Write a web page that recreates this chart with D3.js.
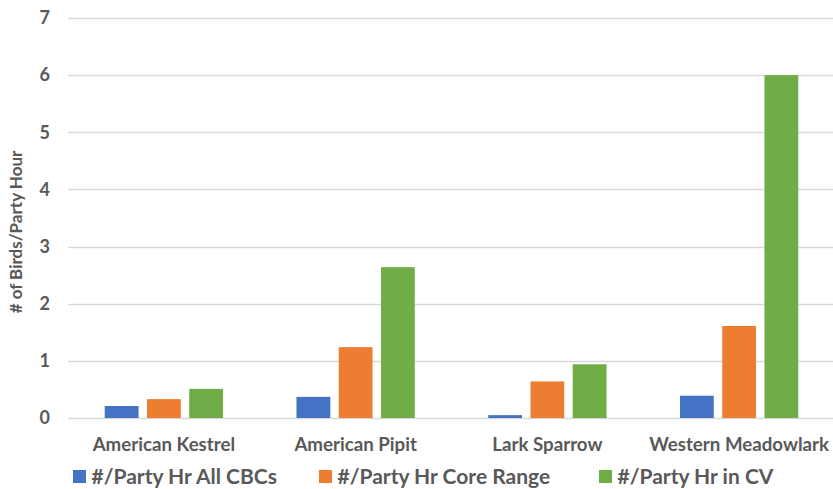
<!DOCTYPE html>
<html>
<head>
<meta charset="utf-8">
<script src="https://cdn.jsdelivr.net/npm/d3@7"></script>
<style>
  html, body { margin: 0; padding: 0; background: #fff; }
  svg { display: block; }
  text { font-family: Lato, "Open Sans", sans-serif; font-weight: bold; fill: #595959; }
</style>
</head>
<body>
<svg id="chart" width="833" height="489"></svg>
<script>
// Birds per party hour, by species and count set
const species = ["American Kestrel", "American Pipit", "Lark Sparrow", "Western Meadowlark"];
const seriesNames = ["#/Party Hr All CBCs", "#/Party Hr Core Range", "#/Party Hr in CV"];
const allCBCs   = [0.21, 0.37, 0.05, 0.39];
const coreRange = [0.33, 1.24, 0.64, 1.61];
const inCV      = [0.51, 2.64, 0.94, 6.00];
const seriesColors = ["#4472C4", "#ED7D31", "#70AD47"];
const yTicks = [0, 1, 2, 3, 4, 5, 6, 7];

const seriesValues = [allCBCs, coreRange, inCV];
const rows = species.map((s, i) => ({
  species: s,
  values: seriesNames.map((n, j) => ({ key: n, value: seriesValues[j][i], color: seriesColors[j] }))
}));

const svg = d3.select("#chart");
const plot = { left: 68, right: 835, top: 18, bottom: 418 };

const x = d3.scaleBand().domain(species).range([plot.left, plot.right]).paddingInner(0).paddingOuter(0);
const y = d3.scaleLinear().domain([0, 7]).range([plot.bottom, plot.top]);

// inner band for the three bars of each species
const groupWidth = x.bandwidth() * 0.617;
const xs = d3.scaleBand().domain(seriesNames).range([0, groupWidth]).paddingInner(0.2);

// horizontal gridlines
svg.append("g")
  .selectAll("line")
  .data(yTicks)
  .join("line")
  .attr("x1", plot.left)
  .attr("x2", plot.right)
  .attr("y1", d => Math.round(y(d)) + 0.5)
  .attr("y2", d => Math.round(y(d)) + 0.5)
  .attr("stroke", "#D9D9D9")
  .attr("stroke-width", 1.3);

// y axis tick labels
const yAxis = d3.axisLeft(y).tickValues(yTicks).tickSize(0).tickPadding(0).tickFormat(d3.format("d"));
const yG = svg.append("g").attr("transform", `translate(50,0)`).call(yAxis);
yG.select(".domain").remove();
yG.selectAll("text")
  .attr("fill", "#595959")
  .style("font-size", "18px")
  .style("font-family", "Lato, 'Open Sans', sans-serif")
  .style("font-weight", "bold");

// bars
const groups = svg.append("g")
  .selectAll("g")
  .data(rows)
  .join("g")
  .attr("transform", d => `translate(${x(d.species) + (x.bandwidth() - groupWidth) / 2},0)`);

groups.selectAll("rect")
  .data(d => d.values)
  .join("rect")
  .attr("x", d => xs(d.key))
  .attr("width", xs.bandwidth())
  .attr("y", d => y(d.value))
  .attr("height", d => y(0) - y(d.value))
  .attr("fill", d => d.color);

// category labels
const xAxis = d3.axisBottom(x).tickSize(0).tickPadding(0);
const xG = svg.append("g").attr("transform", `translate(0,${plot.bottom})`).call(xAxis);
xG.select(".domain").remove();
xG.selectAll("text")
  .attr("y", 33)
  .attr("dy", 0)
  .attr("fill", "#595959")
  .style("font-size", "18.7px")
  .style("font-family", "Lato, 'Open Sans', sans-serif")
  .style("font-weight", "bold");

// y axis title
svg.append("text")
  .attr("transform", "translate(22,232) rotate(-90)")
  .attr("text-anchor", "middle")
  .style("font-size", "17px")
  .text("# of Birds/Party Hour");

// legend
const legendX = [73, 319, 599];
const legend = svg.append("g")
  .selectAll("g")
  .data(seriesNames)
  .join("g")
  .attr("transform", (d, i) => `translate(${legendX[i]},470)`);
legend.append("rect")
  .attr("width", 13)
  .attr("height", 13)
  .attr("fill", (d, i) => seriesColors[i]);
legend.append("text")
  .attr("x", 18.5)
  .attr("y", 14)
  .style("font-size", "21px")
  .text(d => d);
</script>
</body>
</html>
